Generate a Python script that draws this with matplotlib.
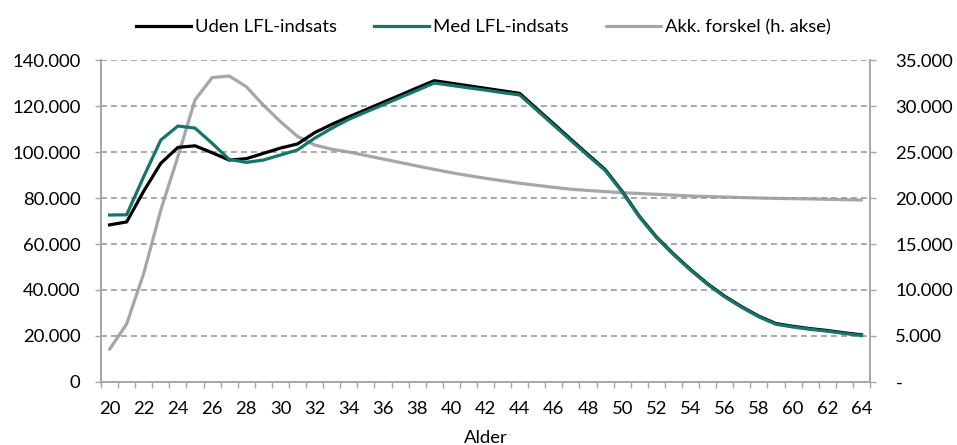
import matplotlib
matplotlib.use("Agg")
import matplotlib.pyplot as plt
from matplotlib.ticker import FuncFormatter, FixedLocator
import numpy as np

ages = list(range(20, 65))
uden = [68300, 69600, 83000, 95100, 102000, 102700, 99700, 96500, 97100, 99400,
        101700, 103500, 108400, 112000, 115300, 118400, 121600, 124700, 127900, 131000,
        129900, 128800, 127700, 126600, 125500, 118800, 112200, 105500, 98900, 92400,
        82900, 72100, 63100, 55700, 48900, 42700, 37300, 32700, 28600, 25400,
        24200, 23200, 22400, 21400, 20500]
med = [72600, 72700, 89300, 105200, 111300, 110400, 103800, 96800, 95500, 96500,
       98700, 100900, 106000, 110300, 114200, 117400, 120500, 123700, 126800, 130000,
       128960, 127900, 126900, 125800, 124800, 118200, 111600, 105000, 98400, 92000,
       82600, 71800, 62800, 55400, 48600, 42400, 37000, 32400, 28300, 25100,
       23900, 22900, 22100, 21100, 20200]
akk = [3550, 6300, 11800, 18700, 24500, 30650, 33080, 33260, 32100, 30100,
       28300, 26700, 25760, 25300, 25000, 24620, 24240, 23860, 23480, 23110,
       22750, 22440, 22140, 21870, 21600, 21380, 21160, 20950, 20820, 20700,
       20580, 20490, 20400, 20310, 20220, 20160, 20110, 20050, 20000, 19960,
       19930, 19900, 19860, 19820, 19780]
labels = ["Uden LFL-indsats", "Med LFL-indsats", "Akk. forskel (h. akse)"]
colors = ["#000000", "#14756C", "#A6A6A6"]

plt.rcParams['font.family'] = ['Lato', 'DejaVu Sans']
fs = 13.3

fig = plt.figure(figsize=(9.57, 4.45), dpi=100)
ax = fig.add_axes([101/957, 1-382/445, (870-101)/957, (382-60)/445])
ax2 = ax.twinx()

x = np.arange(len(ages))
ax2.plot(x, akk, color=colors[2], lw=2.3, solid_capstyle='round', label=labels[2], zorder=2)
l1, = ax.plot(x, uden, color=colors[0], lw=2.3, label=labels[0], zorder=3)
l2, = ax.plot(x, med, color=colors[1], lw=2.3, label=labels[1], zorder=4)
l3 = ax2.lines[0]

ax.set_zorder(ax2.get_zorder() + 1)
ax.patch.set_visible(False)

ax.set_xlim(-0.5, len(ages) - 0.5)
ax.set_ylim(0, 140000)
ax2.set_ylim(0, 35000)

ax.set_yticks(np.arange(0, 140001, 20000))
ax2.set_yticks(np.arange(0, 35001, 5000))
ax.yaxis.set_major_formatter(FuncFormatter(lambda v, p: f"{int(v):,}".replace(",", ".")))
ax2.yaxis.set_major_formatter(FuncFormatter(lambda v, p: "-" if v == 0 else f"{int(v):,}".replace(",", ".")))

ax.set_xticks(x[::2])
ax.set_xticklabels([str(a) for a in ages[::2]])
ax.xaxis.set_minor_locator(FixedLocator(np.arange(-0.5, len(ages), 1.0)))
ax.tick_params(axis='x', which='major', length=0, pad=14, labelsize=fs)
ax.tick_params(axis='x', which='minor', length=4.3, color='#A6A6A6', width=1)
ax.tick_params(axis='y', length=4.3, color='#A6A6A6', width=1, labelsize=fs, pad=10.5)
ax2.tick_params(axis='y', length=4.3, color='#A6A6A6', width=1, labelsize=fs, pad=14)

for a in (ax, ax2):
    a.spines['top'].set_visible(False)
    for s in ('left', 'right', 'bottom'):
        a.spines[s].set_color('#A6A6A6')
        a.spines[s].set_linewidth(1.2)

for yv in np.arange(20000, 140001, 20000):
    ax.axhline(yv, color='#9A9A9A', lw=1.2, ls=(0, (3.5, 2.5)), zorder=1)

ax.set_xlabel("Alder", fontsize=fs, labelpad=9)

fig.legend([l1, l2, l3], labels, loc='upper center', bbox_to_anchor=(0.505, 0.995),
           ncol=3, frameon=False, fontsize=fs, handlelength=3.0, handletextpad=0.2,
           columnspacing=2.0)

fig.savefig("out.png", dpi=100)
